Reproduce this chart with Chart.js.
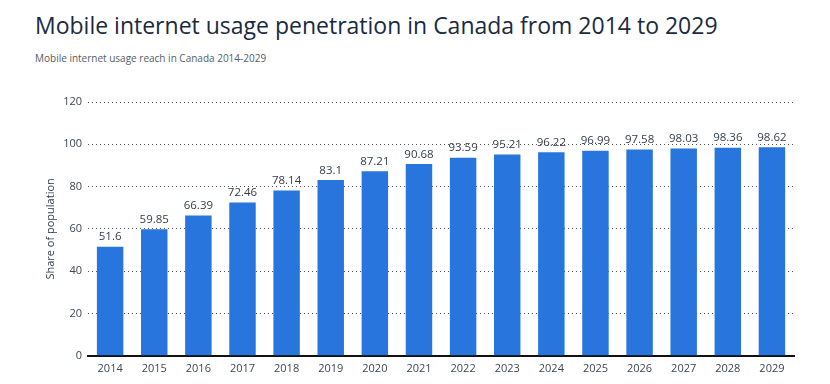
<!DOCTYPE html>
<html>
<head>
<meta charset="utf-8">
<script src="https://cdn.jsdelivr.net/npm/chart.js@4.4.0/dist/chart.umd.min.js"></script>
<style>
  html, body { margin: 0; padding: 0; background: #fff; }
  body { width: 830px; height: 384px; position: relative; overflow: hidden; font-family: 'Open Sans', 'Noto Sans', sans-serif; }
  #title { position: absolute; left: 35px; top: 9px; font-size: 23px; color: #1b2a3f; white-space: nowrap; }
  #subtitle { position: absolute; left: 35px; top: 51px; font-size: 10px; color: #555d68; white-space: nowrap; }
  #wrap { position: absolute; left: 0; top: 0; width: 830px; height: 384px; }
</style>
</head>
<body>
<div id="title">Mobile internet usage penetration in Canada from 2014 to 2029</div>
<div id="subtitle">Mobile internet usage reach in Canada 2014-2029</div>
<div id="wrap"><canvas id="chart"></canvas></div>
<script>
'use strict';

const years = ['2014', '2015', '2016', '2017', '2018', '2019', '2020', '2021',
  '2022', '2023', '2024', '2025', '2026', '2027', '2028', '2029'];
const reach = [51.6, 59.85, 66.39, 72.46, 78.14, 83.1, 87.21, 90.68,
  93.59, 95.21, 96.22, 96.99, 97.58, 98.03, 98.36, 98.62];
const yTicks = [0, 20, 40, 60, 80, 100, 120];

// value labels above each bar
const barLabels = {
  id: 'barLabels',
  afterDatasetsDraw: function (chart) {
    const ctx = chart.ctx;
    const meta = chart.getDatasetMeta(0);
    ctx.save();
    ctx.font = '11.5px "Open Sans", "Noto Sans", sans-serif';
    ctx.fillStyle = '#333d4a';
    ctx.textAlign = 'center';
    ctx.textBaseline = 'bottom';
    meta.data.forEach(function (bar, i) {
      ctx.fillText(String(reach[i]), bar.x, bar.y - 4);
    });
    ctx.restore();
  },
};

new Chart(document.getElementById('chart'), {
  type: 'bar',
  data: {
    labels: years,
    datasets: [{
      data: reach,
      backgroundColor: '#2876dd',
      categoryPercentage: 0.6,
      barPercentage: 1,
    }],
  },
  options: {
    responsive: true,
    maintainAspectRatio: false,
    animation: false,
    layout: {
      padding: { top: 102, right: 36, left: 44, bottom: 3 },
    },
    plugins: {
      legend: { display: false },
      tooltip: { enabled: false },
    },
    scales: {
      x: {
        grid: { display: false, drawTicks: false },
        border: { color: '#111', width: 2 },
        ticks: {
          color: '#3c4654',
          padding: 6,
          font: { size: 11, family: '"Open Sans", "Noto Sans", sans-serif' },
        },
      },
      y: {
        min: 0,
        max: 120,
        afterBuildTicks: function (axis) {
          axis.ticks = yTicks.map(function (v) { return { value: v }; });
        },
        grid: {
          color: '#555',
          lineWidth: 1,
          drawTicks: false,
        },
        border: { display: false, dash: [1, 3] },
        ticks: {
          color: '#3c4654',
          padding: 6,
          font: { size: 11, family: '"Open Sans", "Noto Sans", sans-serif' },
        },
        title: {
          display: true,
          text: 'Share of population',
          color: '#333d4a',
          padding: { top: 0, bottom: 0 },
          font: { size: 11, family: '"Open Sans", "Noto Sans", sans-serif' },
        },
      },
    },
  },
  plugins: [barLabels],
});
</script>
</body>
</html>
